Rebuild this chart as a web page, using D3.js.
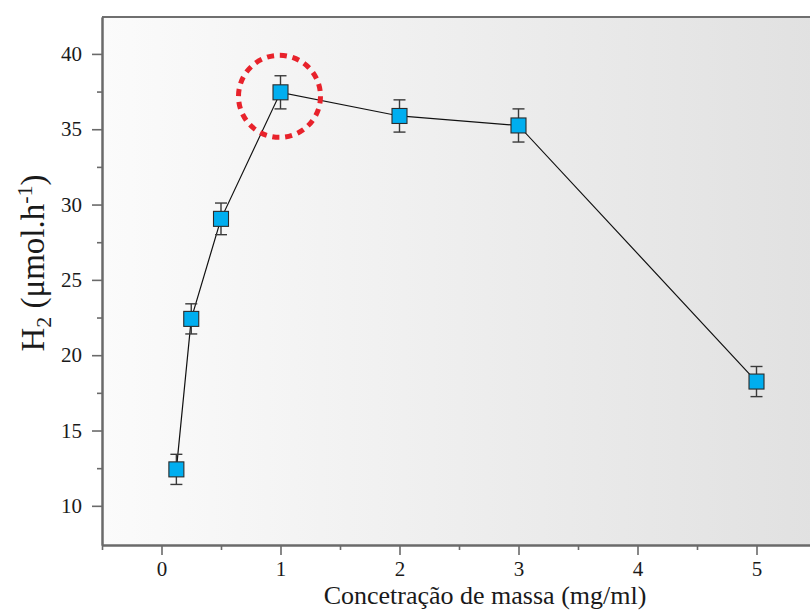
<!DOCTYPE html>
<html>
<head>
<meta charset="utf-8">
<script src="https://cdn.jsdelivr.net/npm/d3@7"></script>
<style>
  html, body { margin: 0; padding: 0; background: #ffffff; }
  svg { display: block; }
  svg text { font-family: 'Liberation Serif', 'Times New Roman', serif !important; fill: #1a1a1a; }
</style>
</head>
<body>
<svg id="chart" width="810" height="610" font-family="Liberation Serif"></svg>
<script>
// Mass concentration (mg/ml) vs. H2 evolution rate (µmol/h)
const concentration = [0.125, 0.25, 0.5, 1, 2, 3, 5];
const h2Rate        = [12.42, 22.41, 29.05, 37.45, 35.88, 35.25, 18.25];
const h2Error       = [1.0, 1.0, 1.05, 1.1, 1.07, 1.1, 1.0];

const xMajorTicks = [0, 1, 2, 3, 4, 5];
const xMinorTicks = [-0.5, 0.5, 1.5, 2.5, 3.5, 4.5];
const yMajorTicks = [10, 15, 20, 25, 30, 35, 40];
const yMinorTicks = [12.5, 17.5, 22.5, 27.5, 32.5, 37.5];

// Point that is highlighted as the optimum
const highlightIndex = 3;

const serif = "Liberation Serif";
const svg = d3.select("#chart");
const plotLeft = 102, plotRight = 816, plotTop = 17, plotBottom = 545;

const x = d3.scaleLinear().domain([-0.5, 5.5]).range([plotLeft, plotRight]);
const y = d3.scaleLinear().domain([7.4, 42.45]).range([plotBottom, plotTop]);

// Plot background: light horizontal gradient
const defs = svg.append("defs");
const grad = defs.append("linearGradient").attr("id", "bg")
  .attr("x1", "0%").attr("x2", "100%").attr("y1", "0%").attr("y2", "0%");
grad.append("stop").attr("offset", "0%").attr("stop-color", "#fbfbfb");
grad.append("stop").attr("offset", "100%").attr("stop-color", "#e1e1e1");

svg.append("rect")
  .attr("x", plotLeft).attr("y", plotTop)
  .attr("width", plotRight - plotLeft).attr("height", plotBottom - plotTop)
  .attr("fill", "url(#bg)");

// Top frame line
svg.append("line")
  .attr("x1", plotLeft).attr("x2", plotRight).attr("y1", plotTop).attr("y2", plotTop)
  .attr("stroke", "#6f6f6f").attr("stroke-width", 2);

// Axes
const axisColor = "#6a6a6a";
function styleAxis(g) {
  g.attr("font-family", serif).attr("font-size", 21);
  g.select(".domain").attr("stroke", axisColor).attr("stroke-width", 2);
  g.selectAll(".tick line").attr("stroke", axisColor).attr("stroke-width", 1.6);
  g.selectAll(".tick text")
    .attr("font-family", serif)
    .attr("font-size", 21)
    .attr("fill", "#1a1a1a");
}

const xAxis = svg.append("g").attr("transform", `translate(0,${plotBottom})`)
  .call(d3.axisBottom(x).tickValues(xMajorTicks).tickSize(10).tickSizeOuter(0).tickPadding(6)
    .tickFormat(d3.format("d")));
styleAxis(xAxis);

const xMinor = svg.append("g").attr("transform", `translate(0,${plotBottom})`)
  .call(d3.axisBottom(x).tickValues(xMinorTicks).tickSize(5).tickSizeOuter(0).tickFormat(""));
styleAxis(xMinor);

const yAxis = svg.append("g").attr("transform", `translate(${plotLeft},0)`)
  .call(d3.axisLeft(y).tickValues(yMajorTicks).tickSize(10).tickSizeOuter(0).tickPadding(10)
    .tickFormat(d3.format("d")));
styleAxis(yAxis);

const yMinor = svg.append("g").attr("transform", `translate(${plotLeft},0)`)
  .call(d3.axisLeft(y).tickValues(yMinorTicks).tickSize(5).tickSizeOuter(0).tickFormat(""));
styleAxis(yMinor);

// Data
const data = concentration.map((c, i) => ({ c, v: h2Rate[i], e: h2Error[i] }));

// Connecting line
svg.append("path")
  .datum(data)
  .attr("fill", "none")
  .attr("stroke", "#111")
  .attr("stroke-width", 1.2)
  .attr("d", d3.line().x(d => x(d.c)).y(d => y(d.v)));

// Error bars
const capHalf = 6;
const eb = svg.append("g").attr("stroke", "#3a3a3a").attr("stroke-width", 1.4);
data.forEach(d => {
  const cx = x(d.c), y1 = y(d.v + d.e), y2 = y(d.v - d.e);
  eb.append("line").attr("x1", cx).attr("x2", cx).attr("y1", y1).attr("y2", y2);
  eb.append("line").attr("x1", cx - capHalf).attr("x2", cx + capHalf).attr("y1", y1).attr("y2", y1);
  eb.append("line").attr("x1", cx - capHalf).attr("x2", cx + capHalf).attr("y1", y2).attr("y2", y2);
});

// Square markers
const ms = 15;
svg.append("g").selectAll("rect")
  .data(data).join("rect")
  .attr("x", d => x(d.c) - ms / 2)
  .attr("y", d => y(d.v) - ms / 2)
  .attr("width", ms).attr("height", ms)
  .attr("fill", "#00aeef")
  .attr("stroke", "#2b2b2b").attr("stroke-width", 1.1);

// Dashed red circle around the optimum
const hr = 41;
const circ = 2 * Math.PI * hr;
const nDash = 20;
const period = circ / nDash;
const hp = data[highlightIndex];
svg.append("circle")
  .attr("cx", x(hp.c) - 1)
  .attr("cy", y(hp.v) + 4)
  .attr("r", hr)
  .attr("fill", "none")
  .attr("stroke", "#e8222b")
  .attr("stroke-width", 5)
  .attr("stroke-dasharray", `${period * 0.55} ${period * 0.45}`);

// Axis titles
svg.append("text")
  .attr("x", 485).attr("y", 604)
  .attr("text-anchor", "middle")
  .attr("font-family", serif)
  .attr("font-size", 26)
  .text("Concetração de massa (mg/ml)");

const yTitle = svg.append("text")
  .attr("transform", "translate(44,263) rotate(-90)")
  .attr("text-anchor", "middle")
  .attr("font-family", serif)
  .attr("font-size", 33);
yTitle.append("tspan").text("H");
yTitle.append("tspan").attr("dy", 7).attr("font-size", 22).text("2");
yTitle.append("tspan").attr("dy", -7).text(" (μmol.h");
yTitle.append("tspan").attr("dy", -12).attr("font-size", 22).text("-1");
yTitle.append("tspan").attr("dy", 12).text(")");
</script>
</body>
</html>
